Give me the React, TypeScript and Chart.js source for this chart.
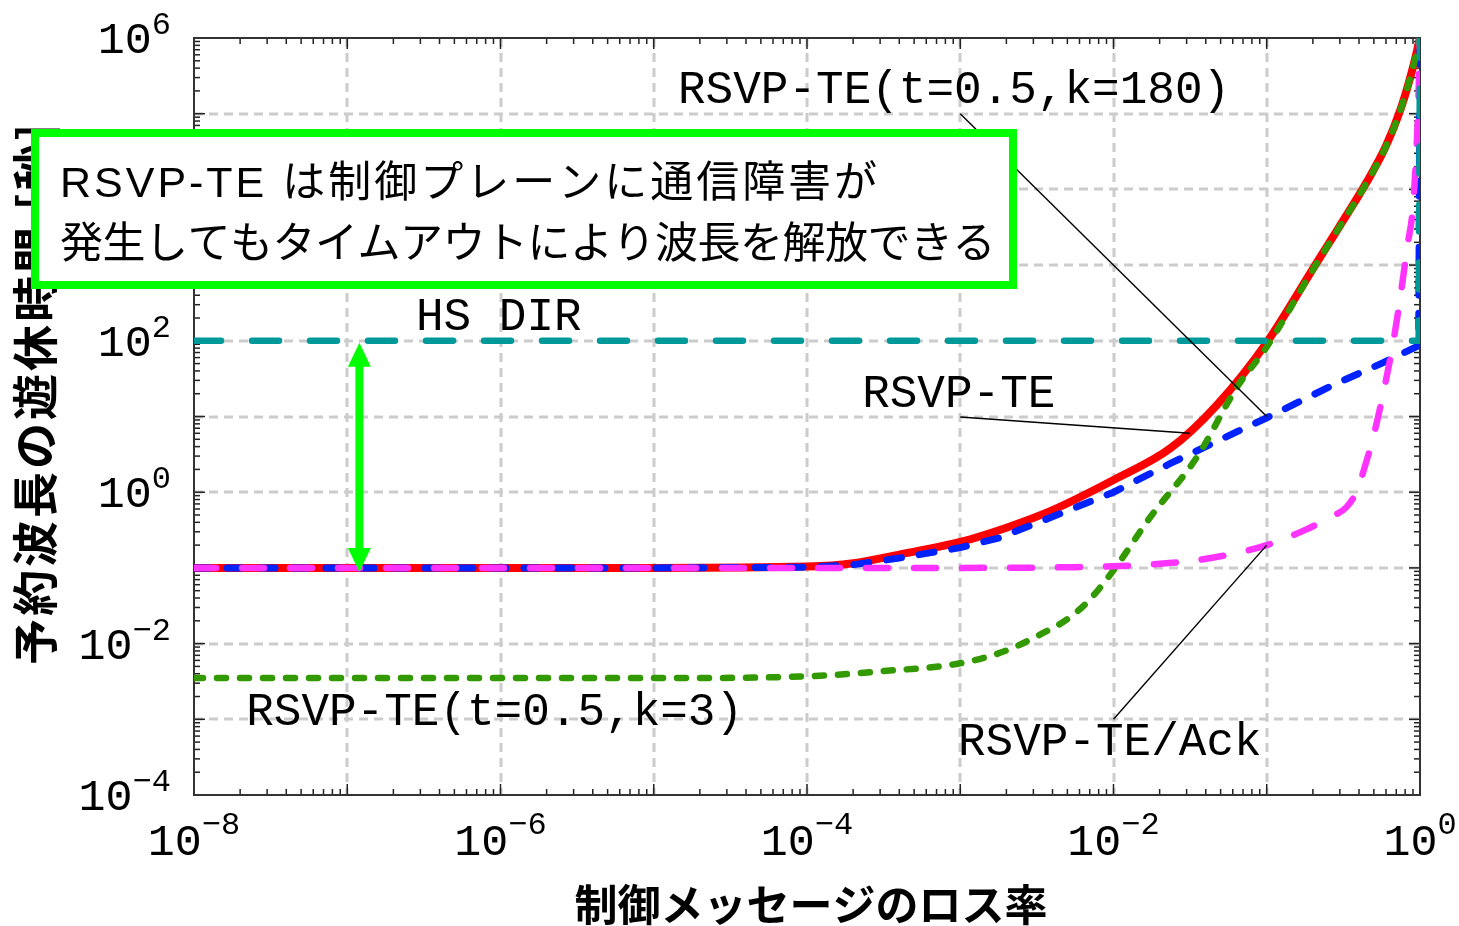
import React, { useEffect, useRef } from 'react';
import { Chart, registerables } from 'chart.js';

Chart.register(...registerables);

// ---- axes ----
const xMin = 1e-8;
const xMax = 1;
const yMin = 1e-4;
const yMax = 1e6;
const xGridExps = [-7, -6, -5, -4, -3, -2, -1];
const yGridExps = [-3, -2, -1, 0, 1, 2, 3, 4, 5];
const xTickExps = [-8, -7, -6, -5, -4, -3, -2, -1, 0];
const yTickExps = [-4, -3, -2, -1, 0, 1, 2, 3, 4, 5, 6];
const xLabelExps = [-8, -6, -4, -2, 0];
const yLabelExps = [-4, -2, 0, 2, 4, 6];
const xTitle = '制御メッセージのロス率';
const yTitle = '予約波長の遊休時間 [秒]';

// ---- series ----
const hsdirX = [1e-8, 0.98, 1];
const hsdirY = [100, 100, 1e6];

const rsvpX = [1e-8, 1e-5, 1e-4, 2e-4, 4e-4, 1e-3, 2e-3, 4e-3, 1e-2, 2.35e-2, 4.7e-2, 0.1, 0.2, 0.3, 0.45, 0.6, 0.75, 0.9, 1];
const rsvpY = [0.1, 0.1, 0.104, 0.115, 0.15, 0.22, 0.34, 0.58, 1.45, 3.8, 14, 95, 890, 3300, 1.26e4, 3.76e4, 1.17e5, 4.1e5, 1e6];

const k180X = [1e-8, 1e-5, 1e-4, 2e-4, 4e-4, 1e-3, 1.8e-3, 3.85e-3, 1e-2, 2.35e-2, 6.4e-2, 0.1, 0.27, 0.57, 0.98, 1];
const k180Y = [0.1, 0.1, 0.102, 0.11, 0.135, 0.185, 0.25, 0.46, 1.0, 2.4, 6.3, 9.6, 26, 51, 86, 1e6];

const k3X = [1e-8, 1e-5, 1e-4, 3e-4, 1e-3, 2e-3, 3.4e-3, 5e-3, 6.9e-3, 1e-2, 1.74e-2, 3.5e-2, 6.4e-2, 0.1, 0.2, 0.3, 0.45, 0.6, 0.75, 0.9, 1];
const k3Y = [0.0035, 0.0035, 0.0037, 0.0043, 0.0055, 0.0081, 0.0135, 0.021, 0.037, 0.093, 0.47, 2.9, 24.5, 83, 870, 3250, 1.24e4, 3.7e4, 1.15e5, 4.1e5, 1e6];

const ackX = [1e-8, 1e-3, 5e-3, 1e-2, 2.2e-2, 4.5e-2, 0.1, 0.18, 0.26, 0.33, 0.39, 0.44, 0.49, 0.575, 0.667, 0.74, 0.83, 0.9, 0.97, 1];
const ackY = [0.1, 0.1, 0.102, 0.105, 0.115, 0.137, 0.2, 0.32, 0.47, 0.63, 1.07, 2.3, 4.9, 20, 93, 350, 1860, 6000, 1e5, 1e6];

// ---- annotations (data coordinates) ----
const labelTexts = ['RSVP-TE(t=0.5,k=180)', 'HS DIR', 'RSVP-TE', 'RSVP-TE(t=0.5,k=3)', 'RSVP-TE/Ack'];
const labelX = [1.44e-5, 2.81e-7, 2.29e-4, 2.19e-8, 9.66e-4];
const labelY = [1.38e5, 139, 13.3, 8.4e-4, 3.37e-4];
const leaderX1 = [1e-3, 1e-3, 1e-2];
const leaderY1 = [1e5, 9.85, 1e-3];
const leaderX2 = [0.1, 0.0316, 0.1];
const leaderY2 = [10, 6, 0.2];
const arrowX = 1.2e-7;
const arrowY = [94, 0.088];
const calloutLines = ['RSVP-TE は制御プレーンに通信障害が', '発生してもタイムアウトにより波長を解放できる'];

const MONO = '"Liberation Mono", "DejaVu Sans Mono", monospace';
const JP = '"Noto Sans CJK JP", "Noto Sans", sans-serif';

function expText(e: number) {
  return e < 0 ? '\u2212' + String(-e) : String(e);
}

function seg(ctx: CanvasRenderingContext2D, x1: number, y1: number, x2: number, y2: number) {
  ctx.beginPath();
  ctx.moveTo(x1, y1);
  ctx.lineTo(x2, y2);
  ctx.stroke();
}

function fitText(ctx: CanvasRenderingContext2D, t: string, x: number, y: number, target: number) {
  (ctx as any).letterSpacing = '0px';
  const w = ctx.measureText(t).width;
  const n = Array.from(t).length;
  const ls = (target - w) / n;
  (ctx as any).letterSpacing = ls.toFixed(2) + 'px';
  ctx.fillText(t, x, y);
  (ctx as any).letterSpacing = '0px';
}

const decorPlugin = {
  id: 'decor',
  beforeDraw(chart: any) {
    const ctx = chart.ctx as CanvasRenderingContext2D;
    ctx.save();
    ctx.fillStyle = '#ffffff';
    ctx.fillRect(0, 0, chart.width, chart.height);
    ctx.restore();
  },
  beforeDatasetsDraw(chart: any) {
    const ctx = chart.ctx as CanvasRenderingContext2D;
    const a = chart.chartArea;
    const xs = chart.scales.x;
    const ys = chart.scales.y;
    ctx.save();
    // dashed grid
    ctx.strokeStyle = '#cccccc';
    ctx.lineWidth = 3;
    ctx.setLineDash([9, 6]);
    for (const e of xGridExps) {
      const px = Math.round(xs.getPixelForValue(Math.pow(10, e)));
      seg(ctx, px, a.top, px, a.bottom);
    }
    for (const e of yGridExps) {
      const py = Math.round(ys.getPixelForValue(Math.pow(10, e)));
      seg(ctx, a.left, py, a.right, py);
    }
    ctx.setLineDash([]);
    // ticks (inward, all four sides)
    ctx.strokeStyle = '#222222';
    ctx.lineWidth = 1.5;
    for (const e of xTickExps) {
      const base = Math.pow(10, e);
      const px = xs.getPixelForValue(base);
      seg(ctx, px, a.bottom, px, a.bottom - 11);
      seg(ctx, px, a.top, px, a.top + 11);
      if (e < 0) {
        for (let m = 2; m <= 9; m++) {
          const q = xs.getPixelForValue(base * m);
          seg(ctx, q, a.bottom, q, a.bottom - 6);
          seg(ctx, q, a.top, q, a.top + 6);
        }
      }
    }
    for (const e of yTickExps) {
      const base = Math.pow(10, e);
      const py = ys.getPixelForValue(base);
      seg(ctx, a.left, py, a.left + 11, py);
      seg(ctx, a.right, py, a.right - 11, py);
      if (e < 6) {
        for (let m = 2; m <= 9; m++) {
          const q = ys.getPixelForValue(base * m);
          seg(ctx, a.left, q, a.left + 6, q);
          seg(ctx, a.right, q, a.right - 6, q);
        }
      }
    }
    // frame
    ctx.strokeStyle = '#333333';
    ctx.lineWidth = 2;
    ctx.strokeRect(a.left, a.top, a.right - a.left, a.bottom - a.top);
    ctx.restore();
  },
  afterDatasetsDraw(chart: any) {
    const ctx = chart.ctx as CanvasRenderingContext2D;
    const a = chart.chartArea;
    const xs = chart.scales.x;
    const ys = chart.scales.y;
    const X = (v: number) => xs.getPixelForValue(v);
    const Y = (v: number) => ys.getPixelForValue(v);
    ctx.save();

    // leader lines
    ctx.strokeStyle = '#000000';
    ctx.lineWidth = 1.4;
    for (let i = 0; i < leaderX1.length; i++) {
      seg(ctx, X(leaderX1[i]), Y(leaderY1[i]), X(leaderX2[i]), Y(leaderY2[i]));
    }

    // double arrow
    const ax = X(arrowX);
    const at = Y(arrowY[0]);
    const ab = Y(arrowY[1]);
    ctx.strokeStyle = '#00ff00';
    ctx.fillStyle = '#00ff00';
    ctx.lineWidth = 8;
    seg(ctx, ax, at + 20, ax, ab - 20);
    ctx.beginPath();
    ctx.moveTo(ax, at);
    ctx.lineTo(ax - 11.5, at + 24);
    ctx.lineTo(ax + 11.5, at + 24);
    ctx.closePath();
    ctx.fill();
    ctx.beginPath();
    ctx.moveTo(ax, ab);
    ctx.lineTo(ax - 11.5, ab - 24);
    ctx.lineTo(ax + 11.5, ab - 24);
    ctx.closePath();
    ctx.fill();

    // curve labels
    ctx.fillStyle = '#000000';
    ctx.font = '46px ' + MONO;
    ctx.textAlign = 'left';
    ctx.textBaseline = 'alphabetic';
    for (let i = 0; i < labelTexts.length; i++) {
      ctx.fillText(labelTexts[i], X(labelX[i]), Y(labelY[i]));
    }

    // tick labels
    const baseF = '45px ' + MONO;
    const supF = '32px ' + MONO;
    for (const e of yLabelExps) {
      const py = Y(Math.pow(10, e));
      const et = expText(e);
      ctx.font = supF;
      const ew = ctx.measureText(et).width;
      ctx.font = baseF;
      const bw = ctx.measureText('10').width;
      const right = a.left - 23;
      ctx.fillText('10', right - ew - bw, py + 15);
      ctx.font = supF;
      ctx.fillText(et, right - ew, py - 4);
    }
    for (const e of xLabelExps) {
      const px = X(Math.pow(10, e));
      const et = expText(e);
      ctx.font = supF;
      const ew = ctx.measureText(et).width;
      ctx.font = baseF;
      const bw = ctx.measureText('10').width;
      const start = px - (ew + bw) / 2;
      ctx.fillText('10', start, a.bottom + 60);
      ctx.font = supF;
      ctx.fillText(et, start + bw, a.bottom + 39);
    }

    // axis titles
    ctx.font = 'bold 43px ' + JP;
    ctx.textAlign = 'center';
    ctx.textBaseline = 'middle';
    ctx.fillText(xTitle, (a.left + a.right) / 2 + 4, a.bottom + 110);

    ctx.save();
    ctx.translate(35, 665);
    ctx.rotate(-Math.PI / 2);
    ctx.font = 'bold 46px ' + JP;
    ctx.textAlign = 'left';
    ctx.textBaseline = 'middle';
    (ctx as any).letterSpacing = '3px';
    ctx.fillText(yTitle, 0, 0);
    (ctx as any).letterSpacing = '0px';
    ctx.restore();

    // callout box
    ctx.fillStyle = '#ffffff';
    ctx.fillRect(31, 129, 986, 160);
    ctx.strokeStyle = '#00ff00';
    ctx.lineWidth = 8;
    ctx.strokeRect(35, 133, 978, 152);
    ctx.fillStyle = '#000000';
    ctx.font = '43px "Liberation Sans", ' + JP;
    ctx.textAlign = 'left';
    ctx.textBaseline = 'alphabetic';
    fitText(ctx, calloutLines[0], 60, 197, 820);
    fitText(ctx, calloutLines[1], 60, 258, 935);

    ctx.restore();
  },
};

export default function App() {
  const ref = useRef<HTMLCanvasElement>(null);
  useEffect(() => {
    document.body.style.margin = '0';
    const canvas = ref.current;
    if (!canvas) return;
    const mk = (xsArr: number[], ysArr: number[]) => xsArr.map((v, i) => ({ x: v, y: ysArr[i] }));
    const chart = new Chart(canvas, {
      type: 'line',
      data: {
        datasets: [
          { label: 'HS DIR', data: mk(hsdirX, hsdirY), borderColor: '#009999', borderWidth: 6.5, borderDash: [27, 31], borderCapStyle: 'round' },
          { label: 'RSVP-TE/Ack', data: mk(ackX, ackY), borderColor: '#ff33ff', borderWidth: 6.5, borderDash: [22, 26], borderCapStyle: 'round', cubicInterpolationMode: 'monotone' },
          { label: 'RSVP-TE(t=0.5,k=3)', data: mk(k3X, k3Y), borderColor: '#339900', borderWidth: 6.5, borderDash: [9, 14], borderCapStyle: 'round', cubicInterpolationMode: 'monotone' },
          { label: 'RSVP-TE(t=0.5,k=180)', data: mk(k180X, k180Y), borderColor: '#0022ff', borderWidth: 7, borderDash: [15, 18], borderCapStyle: 'round' },
          { label: 'RSVP-TE', data: mk(rsvpX, rsvpY), borderColor: '#ff0000', borderWidth: 8, cubicInterpolationMode: 'monotone' },
        ] as any,
      },
      options: {
        responsive: false,
        animation: false,
        devicePixelRatio: 1,
        events: [],
        layout: { padding: { left: 194, right: 39, top: 38, bottom: 131 }, autoPadding: false },
        plugins: { legend: { display: false }, tooltip: { enabled: false } },
        elements: { point: { radius: 0 }, line: { tension: 0, fill: false } },
        scales: {
          x: { type: 'logarithmic', min: xMin, max: xMax, display: false },
          y: { type: 'logarithmic', min: yMin, max: yMax, display: false },
        },
      } as any,
      plugins: [decorPlugin as any],
    });
    return () => chart.destroy();
  }, []);
  return (
    <div style={{ position: 'absolute', left: 0, top: 0, width: 1459, height: 926 }}>
      <canvas ref={ref} width={1459} height={926} style={{ display: 'block' }} />
    </div>
  );
}
